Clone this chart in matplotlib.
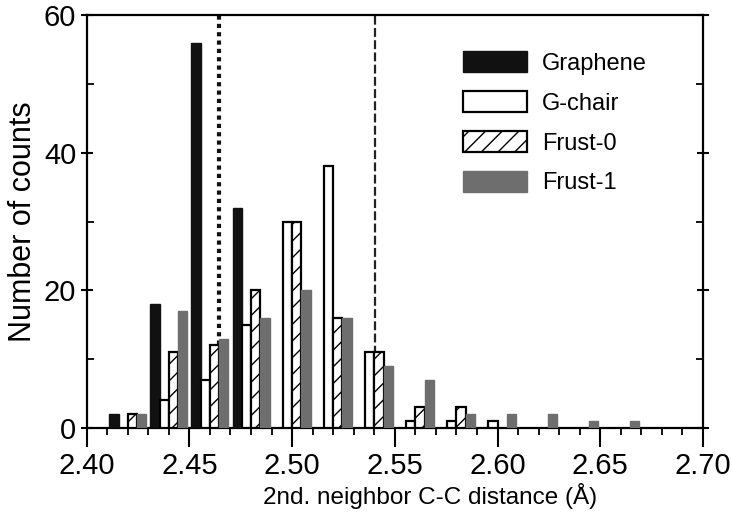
import numpy as np
import matplotlib
matplotlib.use('Agg')
import matplotlib.pyplot as plt
from matplotlib.ticker import MultipleLocator

plt.rcParams['font.family'] = ['Liberation Sans', 'DejaVu Sans']
plt.rcParams['hatch.linewidth'] = 1.0

# bin centres (Angstrom) and counts per structure
bins = [2.42, 2.44, 2.46, 2.48, 2.50, 2.52, 2.54, 2.56, 2.58, 2.60, 2.62, 2.64, 2.66]
graphene = [2, 18, 56, 32, 0, 0, 0, 0, 0, 0, 0, 0, 0]
g_chair = [0, 4, 7, 15, 30, 38, 11, 1, 1, 1, 0, 0, 0]
frust_0 = [2, 11, 12, 20, 30, 16, 11, 3, 3, 0, 0, 0, 0]
frust_1 = [2, 17, 13, 16, 20, 16, 9, 7, 2, 2, 2, 1, 1]
labels = ['Graphene', 'G-chair', 'Frust-0', 'Frust-1']
ref_dotted = 2.4645
ref_dashed = 2.5405

fig = plt.figure(figsize=(7.32, 5.23), dpi=100)
ax = fig.add_axes([0.1184, 0.1816, 0.842, 0.7897])

w = 0.0045
offsets = [-1.5 * w, -0.5 * w, 0.5 * w, 1.5 * w]
styles = [
    dict(color='#111111', edgecolor='#111111', linewidth=1.0),
    dict(color='white', edgecolor='black', linewidth=1.6),
    dict(color='white', edgecolor='black', linewidth=1.6, hatch='//'),
    dict(color='#6e6e6e', edgecolor='#6e6e6e', linewidth=1.0),
]
x = np.array(bins)
handles = []
for series, off, st, lab in zip([graphene, g_chair, frust_0, frust_1], offsets, styles, labels):
    vals = np.array(series, dtype=float)
    keep = vals > 0
    b = ax.bar(x[keep] + off, vals[keep], width=w, label=lab, zorder=3, **st)
    handles.append(b)

ax.axvline(ref_dotted, color='#111111', linestyle=(0, (1.0, 1.0)), linewidth=3, zorder=2)
ax.axvline(ref_dashed, color='#222222', linestyle=(0, (4, 1.5)), linewidth=1.6, zorder=2)

ax.set_xlim(2.40, 2.70)
ax.set_ylim(0, 60)
ax.xaxis.set_major_locator(MultipleLocator(0.05))
ax.xaxis.set_minor_locator(MultipleLocator(0.01))
ax.yaxis.set_major_locator(MultipleLocator(20))
ax.yaxis.set_minor_locator(MultipleLocator(10))
ax.xaxis.set_major_formatter(matplotlib.ticker.FormatStrFormatter('%.2f'))

ax.tick_params(axis='x', which='major', direction='out', length=14, width=1.5, labelsize=21, pad=3)
ax.tick_params(axis='x', which='minor', direction='out', length=5, width=1.3)
ax.tick_params(axis='y', which='major', direction='inout', length=8, width=1.5, labelsize=21, right=True)
ax.tick_params(axis='y', which='minor', direction='in', length=5, width=1.3, right=True)
for s in ax.spines.values():
    s.set_linewidth(1.6)

ax.set_xlabel('2nd. neighbor C-C distance (Å)', fontsize=17.5)
ax.xaxis.set_label_coords(0.557, -0.133)
ax.set_ylabel('Number of counts', fontsize=22, labelpad=4)

ax.legend(handles=handles, labels=labels, loc='upper left',
          bbox_to_anchor=(463 / 732, 1 - 51 / 523), bbox_transform=fig.transFigure,
          frameon=False, fontsize=17, handlelength=2.7, handleheight=1.0,
          handletextpad=0.65, labelspacing=0.69, borderpad=0, borderaxespad=0)

fig.savefig('out.png', dpi=100)
